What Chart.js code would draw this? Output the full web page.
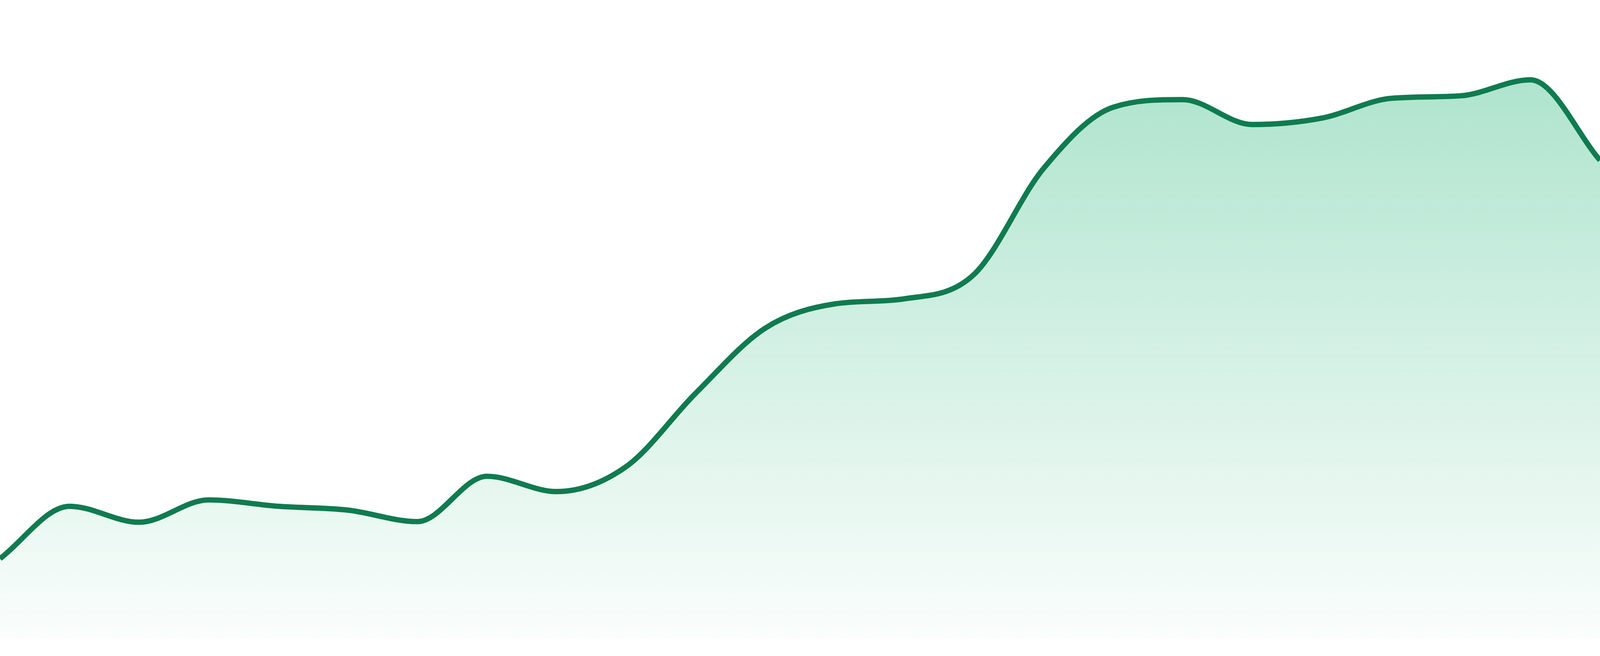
<!DOCTYPE html>
<html>
<head>
<meta charset="utf-8">
<script src="https://cdn.jsdelivr.net/npm/chart.js@4/dist/chart.umd.min.js"></script>
<style>
  html, body { margin: 0; padding: 0; background: #fff; overflow: hidden; }
  #wrap { position: relative; width: 100vw; height: 100vh; }
</style>
</head>
<body>
<div id="wrap"><canvas id="trend"></canvas></div>
<script>
// one point per week, no axes are shown in the sparkline
const weeks = ['W1', 'W2', 'W3', 'W4', 'W5', 'W6', 'W7', 'W8', 'W9', 'W10', 'W11', 'W12',
               'W13', 'W14', 'W15', 'W16', 'W17', 'W18', 'W19', 'W20', 'W21', 'W22', 'W23', 'W24'];
const values = [12.5, 20.7, 18.2, 21.7, 20.7, 20.1, 18.3, 25.4, 23.0, 26.9, 38.4, 48.6,
                52.4, 53.2, 57.0, 73.6, 83.2, 84.4, 80.5, 81.5, 84.6, 85.0, 87.5, 74.9];
const yMin = 0;
const yMax = 100;

const lineColor = '#107b50';

// the reference was drawn at 4800 px wide, keep line weight proportional
function unit(chart) {
  return chart.width / 4800;
}

function areaGradient(context) {
  const chart = context.chart;
  const area = chart.chartArea;
  if (!area) return 'rgba(16,175,108,0.2)';
  const g = chart.ctx.createLinearGradient(0, area.top, 0, area.bottom);
  g.addColorStop(0, 'rgba(16,175,108,0.38)');
  g.addColorStop(1, 'rgba(16,175,108,0.02)');
  return g;
}

const chart = new Chart(document.getElementById('trend'), {
  type: 'line',
  data: {
    labels: weeks,
    datasets: [{
      data: values,
      borderColor: lineColor,
      borderWidth: ctx => 16 * unit(ctx.chart),
      backgroundColor: areaGradient,
      fill: 'start',
      cubicInterpolationMode: 'monotone',
      pointRadius: 0,
      pointHoverRadius: 0
    }]
  },
  options: {
    responsive: true,
    maintainAspectRatio: false,
    animation: false,
    layout: {
      padding: ctx => ({ top: 0, right: 0, left: 0, bottom: ctx.chart.height * 45 / 1680 })
    },
    scales: {
      x: { display: false, offset: false },
      y: { display: false, min: yMin, max: yMax }
    },
    plugins: {
      legend: { display: false },
      tooltip: { enabled: false }
    }
  }
});
</script>
</body>
</html>
